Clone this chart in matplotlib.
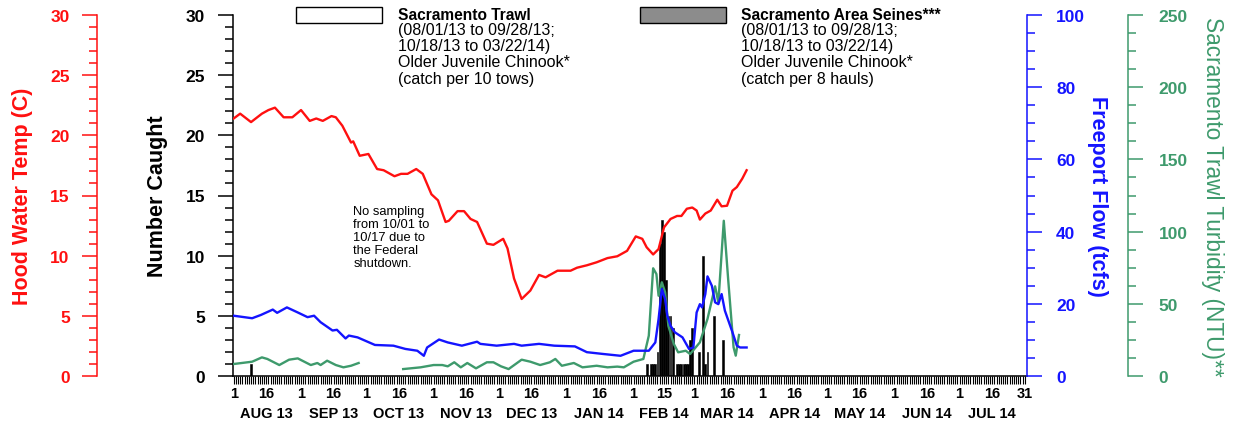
import datetime as dt
import matplotlib.pyplot as plt
import numpy as np
from matplotlib.patches import Rectangle
from matplotlib.ticker import FixedLocator, MultipleLocator

# all x values are days since 08/01/13
temp_day = [0, 3, 8, 13, 16, 19, 23, 27, 31, 35, 38, 41, 45, 47, 50, 54, 55, 58, 62, 66,
            69, 74, 77, 80, 84, 87, 91, 94, 97.5, 99, 103, 106, 109, 112, 116.5, 119.5,
            124, 126, 129, 132.5, 136.5, 140.5, 143.5, 149, 155, 158, 162.5, 167, 172,
            176.5, 181, 185, 188, 190, 193, 195.5, 198, 201, 204, 206, 208.5, 211, 213,
            214.5, 217, 219.5, 222.5, 224.5, 227, 229.5, 231.5, 234, 236]
temp_c = [21.4, 21.8, 21.1, 21.8, 22.1, 22.3, 21.5, 21.5, 22.1, 21.2, 21.4, 21.2, 21.6,
          21.5, 20.8, 19.4, 19.5, 18.3, 18.45, 17.2, 17.1, 16.6, 16.8, 16.8, 17.2, 16.8,
          15.1, 14.6, 12.8, 12.9, 13.7, 13.7, 13.05, 12.8, 11.0, 10.9, 11.4, 10.6, 8.1,
          6.4, 7.1, 8.4, 8.2, 8.75, 8.75, 9.0, 9.2, 9.45, 9.8, 9.95, 10.4, 11.6, 11.4,
          10.7, 10.1, 10.55, 12.35, 13.05, 13.3, 13.3, 13.9, 14.0, 13.75, 13.0, 13.5,
          13.75, 14.65, 14.1, 14.15, 15.4, 15.7, 16.4, 17.1]

flow_day = [0, 8.5, 12.5, 18, 20, 24.5, 29.5, 34, 37, 40, 45.5, 47.5, 51.5, 53, 57, 65,
            73.5, 79, 84.5, 87.5, 89, 94.5, 98.5, 105, 112, 113.5, 121, 129, 132.5,
            140.5, 147.5, 157, 162.5, 170, 178, 184, 191, 194, 195.5, 197, 198.5, 199.5,
            201, 203, 206.5, 209.5, 211.5, 213, 214.5, 215.5, 217, 218, 220, 221.5, 223,
            224.5, 226, 229.5, 231.5, 233, 236]
flow_tcfs = [16.7, 16.0, 16.9, 18.4, 17.5, 19.0, 17.6, 16.3, 16.7, 14.9, 12.6, 12.8, 10.4,
             11.2, 10.7, 8.6, 8.4, 7.5, 7.0, 5.6, 7.9, 10.1, 9.3, 8.4, 9.5, 8.9, 8.4, 8.9,
             8.4, 8.9, 8.4, 8.2, 6.6, 6.1, 5.6, 7.0, 7.0, 9.3, 15.8, 24.1, 21.3, 16.7, 13.9,
             12.1, 10.7, 7.5, 7.9, 17.6, 19.9, 19.0, 22.7, 27.6, 25.0, 20.4, 19.9, 22.7,
             18.1, 12.1, 8.4, 7.9, 7.9]

# nan = no sampling (federal shutdown)
turb_day = [0, 8.5, 13, 15.5, 21, 25.5, 29.5, 35.5, 38.5, 40, 43, 47, 50.5, 54, 57.5, 60,
            78, 86, 92, 96, 98.5, 101.5, 104.5, 107.5, 111.5, 116.5, 119.5, 123, 126.5,
            132.5, 136.5, 141, 145.5, 148, 151, 156.5, 160.5, 167, 172, 176.5, 179.5, 184,
            188.5, 191, 193, 194.5, 195.5, 197, 198.5, 200, 202.5, 204.5, 208, 210, 214.5,
            218, 221.5, 223, 225.5, 227.5, 230, 231, 232.5]
turb_ntu = [8.3, 9.9, 12.9, 11.8, 7.6, 11.3, 12.2, 7.6, 9.0, 7.6, 10.6, 7.6, 6.0, 7.1, 9.0,
            np.nan, 4.8, 6.0, 7.6, 7.6, 6.7, 9.5, 6.0, 9.0, 5.3, 9.5, 9.5, 6.7, 4.8, 11.3,
            9.9, 7.6, 9.5, 11.8, 7.1, 9.0, 6.0, 7.1, 6.0, 6.5, 6.0, 9.9, 11.8, 27.9, 74.6,
            70.6, 55.6, 64.9, 58.0, 34.8, 22.2, 16.4, 17.5, 15.2, 23.3, 39.5, 62.1, 51.0,
            107.5, 67.2, 19.9, 14.1, 28.4]

catch_day = [8, 190, 192, 193, 194, 195, 196, 197, 198, 199, 200, 201, 202, 204, 205, 206,
             207, 208, 209, 210, 211, 214, 216, 217, 218, 221, 225]
catch_n = [1, 1, 1, 1, 1, 2, 11, 13, 12, 8, 5, 5, 4, 1, 1, 1, 1, 1, 1, 3, 4, 2, 10, 1, 2, 5, 3]

month_labels = ['AUG 13', 'SEP 13', 'OCT 13', 'NOV 13', 'DEC 13', 'JAN 14',
                'FEB 14', 'MAR 14', 'APR 14', 'MAY 14', 'JUN 14', 'JUL 14']

trawl_text = '(08/01/13 to 09/28/13;\n10/18/13 to 03/22/14)\nOlder Juvenile Chinook*\n(catch per 10 tows)'
seine_text = '(08/01/13 to 09/28/13;\n10/18/13 to 03/22/14)\nOlder Juvenile Chinook*\n(catch per 8 hauls)'
note = 'No sampling\nfrom 10/01 to\n10/17 due to\nthe Federal\nshutdown.'

RED = '#ff1010'
BLUE = '#1414ff'
GREEN = '#3e9a6c'

plt.rcParams['font.family'] = ['Liberation Sans', 'DejaVu Sans']

start = dt.date(2013, 8, 1)
end = dt.date(2014, 7, 31)

# labelled ticks on the 1st and 16th (15th in Feb), plus the last day
tick_pos, tick_txt, mid_pos = [], [], []
for i in range(12):
    y, m = 2013 + (7 + i) // 12, (7 + i) % 12 + 1
    first = dt.date(y, m, 1)
    mid = dt.date(y, m, 15 if m == 2 else 16)
    tick_pos += [(first - start).days, (mid - start).days]
    tick_txt += ['1', str(mid.day)]
    mid_pos.append((mid - start).days)
tick_pos.append((end - start).days)
tick_txt.append('31')

fig = plt.figure(figsize=(12.37, 4.27), dpi=100)
ax = fig.add_axes([233 / 1237, 50 / 427, 794 / 1237, 361 / 427])

ax.bar(catch_day, catch_n, width=0.85, color='black', edgecolor='black', linewidth=0.4)
ax.set_xlim(-0.3, 365)
ax.set_ylim(0, 30)
for s in ['top', 'right']:
    ax.spines[s].set_visible(False)
for s in ['left', 'bottom']:
    ax.spines[s].set_linewidth(1.1)

ax.xaxis.set_major_locator(FixedLocator(tick_pos))
ax.xaxis.set_minor_locator(FixedLocator(range(365)))
ax.set_xticklabels(tick_txt, fontsize=10.5, fontweight='bold')
ax.tick_params(axis='x', which='both', length=5.5, width=0.8, pad=2)
for d, lab in zip(mid_pos, month_labels):
    ax.text(d, -0.1025, lab, transform=ax.get_xaxis_transform(), ha='center', va='center',
            fontsize=10.5, fontweight='bold')

ax.yaxis.set_major_locator(MultipleLocator(5))
ax.yaxis.set_minor_locator(MultipleLocator(1))
ax.tick_params(axis='y', which='major', length=11, width=1.1, pad=9, labelsize=12.5)
ax.tick_params(axis='y', which='minor', length=5.5, width=1.1)
for t in ax.get_yticklabels():
    t.set_fontweight('bold')
ax.text(-0.0957, 0.5, 'Number Caught', transform=ax.transAxes, rotation=90,
        ha='center', va='center', fontsize=15.5, fontweight='bold')

ax.text(0.1515, 0.474, note, transform=ax.transAxes, ha='left', va='top',
        fontsize=9.3, linespacing=1.12)


def side_axis(color, side, pos, top, major, minor, label, lx, rot, pad, weight='bold', size=15.5):
    a = ax.twinx()
    for s in ['left', 'right', 'top', 'bottom']:
        a.spines[s].set_visible(s == side)
    a.spines[side].set_position(('axes', pos))
    a.spines[side].set_color(color)
    a.spines[side].set_linewidth(1.1)
    if side == 'left':
        a.yaxis.tick_left()
    a.set_ylim(0, top)
    a.yaxis.set_major_locator(MultipleLocator(major))
    a.yaxis.set_minor_locator(MultipleLocator(minor))
    a.tick_params(axis='y', which='major', length=11, width=1.1, pad=pad,
                  labelsize=12.5, colors=color)
    a.tick_params(axis='y', which='minor', length=6, width=1.1, colors=color)
    for t in a.get_yticklabels():
        t.set_fontweight('bold')
    ax.text(lx, 0.5, label, transform=ax.transAxes, rotation=rot, ha='center',
            va='center', fontsize=size, fontweight=weight, color=color)
    return a


ax_turb = side_axis(GREEN, 'right', 1.127, 250, 50, 12.5,
                    'Sacramento Trawl Turbidity (NTU)**', 1.234, 270, 11,
                    weight='normal', size=16.3)
ax_flow = side_axis(BLUE, 'right', 1.0, 100, 20, 5, 'Freeport Flow (tcfs)', 1.0894, 270, 10)
ax_temp = side_axis(RED, 'left', -0.1707, 30, 5, 1, 'Hood Water Temp (C)', -0.2657, 90, 9)

ax_turb.plot(turb_day, turb_ntu, color=GREEN, lw=1.7)
ax_flow.plot(flow_day, flow_tcfs, color=BLUE, lw=1.7)
ax_temp.plot(temp_day, temp_c, color=RED, lw=1.7)

# legend boxes
fig.add_artist(Rectangle((296 / 1237, 1 - 24 / 427), 86 / 1237, 16 / 427,
                         transform=fig.transFigure, facecolor='white', edgecolor='black', lw=1))
fig.add_artist(Rectangle((640 / 1237, 1 - 24 / 427), 86 / 1237, 16 / 427,
                         transform=fig.transFigure, facecolor='#8c8c8c', edgecolor='black', lw=1))
narrow = ['Liberation Sans Narrow', 'Liberation Sans']
for x0, title, body in [(398, 'Sacramento Trawl', trawl_text),
                        (741, 'Sacramento Area Seines***', seine_text)]:
    fig.text(x0 / 1237, 1 - 8 / 427, title, ha='left', va='top', fontsize=11.2,
             fontweight='bold', family=narrow)
    fig.text(x0 / 1237, 1 - 23 / 427, body, ha='left', va='top', fontsize=11.5,
             family=narrow, linespacing=1.1)

fig.savefig('out.png', dpi=100)
